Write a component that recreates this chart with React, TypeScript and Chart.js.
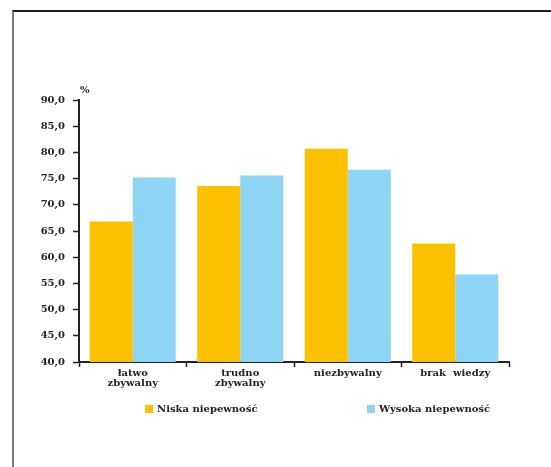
import React, { useEffect, useRef } from "react";
import { Chart, registerables } from "chart.js";

Chart.register(...registerables);

// Categories (two-line labels where the original wraps)
const categories: (string | string[])[] = [
  ["łatwo", "zbywalny"],
  ["trudno", "zbywalny"],
  "niezbywalny",
  "brak  wiedzy",
];

const seriesNames = ["Niska niepewność", "Wysoka niepewność"];
const lowUncertainty = [66.8, 73.6, 80.7, 62.6];
const highUncertainty = [75.2, 75.6, 76.7, 56.7];
const seriesColors = ["#FBC000", "#8ED4F4"];

const yMin = 40;
const yMax = 90;
const yStep = 5;
const unitLabel = "%";

const FONT = "'DejaVu Serif', 'Liberation Serif', serif";

const extrasPlugin = {
  id: "extras",
  afterDraw(chart: any) {
    const { ctx, chartArea } = chart;
    ctx.save();
    ctx.fillStyle = "#222";
    ctx.font = `bold 10px ${FONT}`;
    ctx.textBaseline = "alphabetic";
    ctx.textAlign = "left";
    // unit label above the value axis
    ctx.fillText(unitLabel, chartArea.left + 1, chartArea.top - 7);

    // custom legend below the category axis
    const y = chartArea.bottom + 43;
    const xs = [chartArea.left + 66, chartArea.left + 288];
    chart.data.datasets.forEach((ds: any, i: number) => {
      ctx.fillStyle = ds.backgroundColor;
      ctx.fillRect(xs[i], y, 8, 8);
      ctx.fillStyle = "#222";
      ctx.font = `bold 10px ${FONT}`;
      ctx.textBaseline = "middle";
      ctx.fillText(ds.label, xs[i] + 12, y + 4.5);
    });
    ctx.restore();
  },
};

export default function App() {
  const canvasRef = useRef<HTMLCanvasElement | null>(null);

  useEffect(() => {
    if (!canvasRef.current) return;
    const chart = new Chart(canvasRef.current, {
      type: "bar",
      data: {
        labels: categories,
        datasets: [
          {
            label: seriesNames[0],
            data: lowUncertainty,
            backgroundColor: seriesColors[0],
            borderWidth: 0,
          },
          {
            label: seriesNames[1],
            data: highUncertainty,
            backgroundColor: seriesColors[1],
            borderWidth: 0,
          },
        ],
      },
      options: {
        responsive: false,
        animation: false,
        events: [],
        layout: { padding: { top: 100, right: 42, left: 0, bottom: 65 } },
        datasets: {
          bar: { categoryPercentage: 0.8, barPercentage: 1.0 },
        },
        plugins: {
          legend: { display: false },
          tooltip: { enabled: false },
        },
        scales: {
          x: {
            afterFit: (scale: any) => {
              scale.height = 40;
            },
            grid: {
              display: true,
              drawOnChartArea: false,
              drawTicks: true,
              tickLength: 5,
              tickColor: "#222",
              tickWidth: 1.5,
              offset: true,
            },
            border: { display: true, color: "#222", width: 2 },
            ticks: {
              color: "#222",
              padding: 1,
              maxRotation: 0,
              autoSkip: false,
              font: { family: FONT, size: 10, weight: "bold", lineHeight: 1.05 },
            },
          },
          y: {
            min: yMin,
            max: yMax,
            afterFit: (scale: any) => {
              scale.width = 79;
            },
            grid: {
              display: true,
              drawOnChartArea: false,
              drawTicks: true,
              tickLength: 6,
              tickColor: "#222",
              tickWidth: 1.5,
            },
            border: { display: true, color: "#222", width: 2 },
            ticks: {
              stepSize: yStep,
              color: "#222",
              padding: 8,
              font: { family: FONT, size: 10, weight: "bold" },
              callback: (v: any) => Number(v).toFixed(1).replace(".", ","),
            },
          },
        },
      },
      plugins: [extrasPlugin],
    });
    return () => chart.destroy();
  }, []);

  return (
    <div style={{ position: "fixed", left: 0, top: 0, width: 551, height: 467, background: "#fff" }}>
      <div
        style={{
          position: "absolute",
          left: 12,
          top: 10,
          width: 539,
          height: 457,
          borderTop: "2px solid #1a1a1a",
          borderLeft: "2px solid #7a7a7a",
        }}
      />
      <canvas
        ref={canvasRef}
        width={551}
        height={467}
        style={{ position: "absolute", left: 0, top: 0, width: 551, height: 467 }}
      />
    </div>
  );
}
